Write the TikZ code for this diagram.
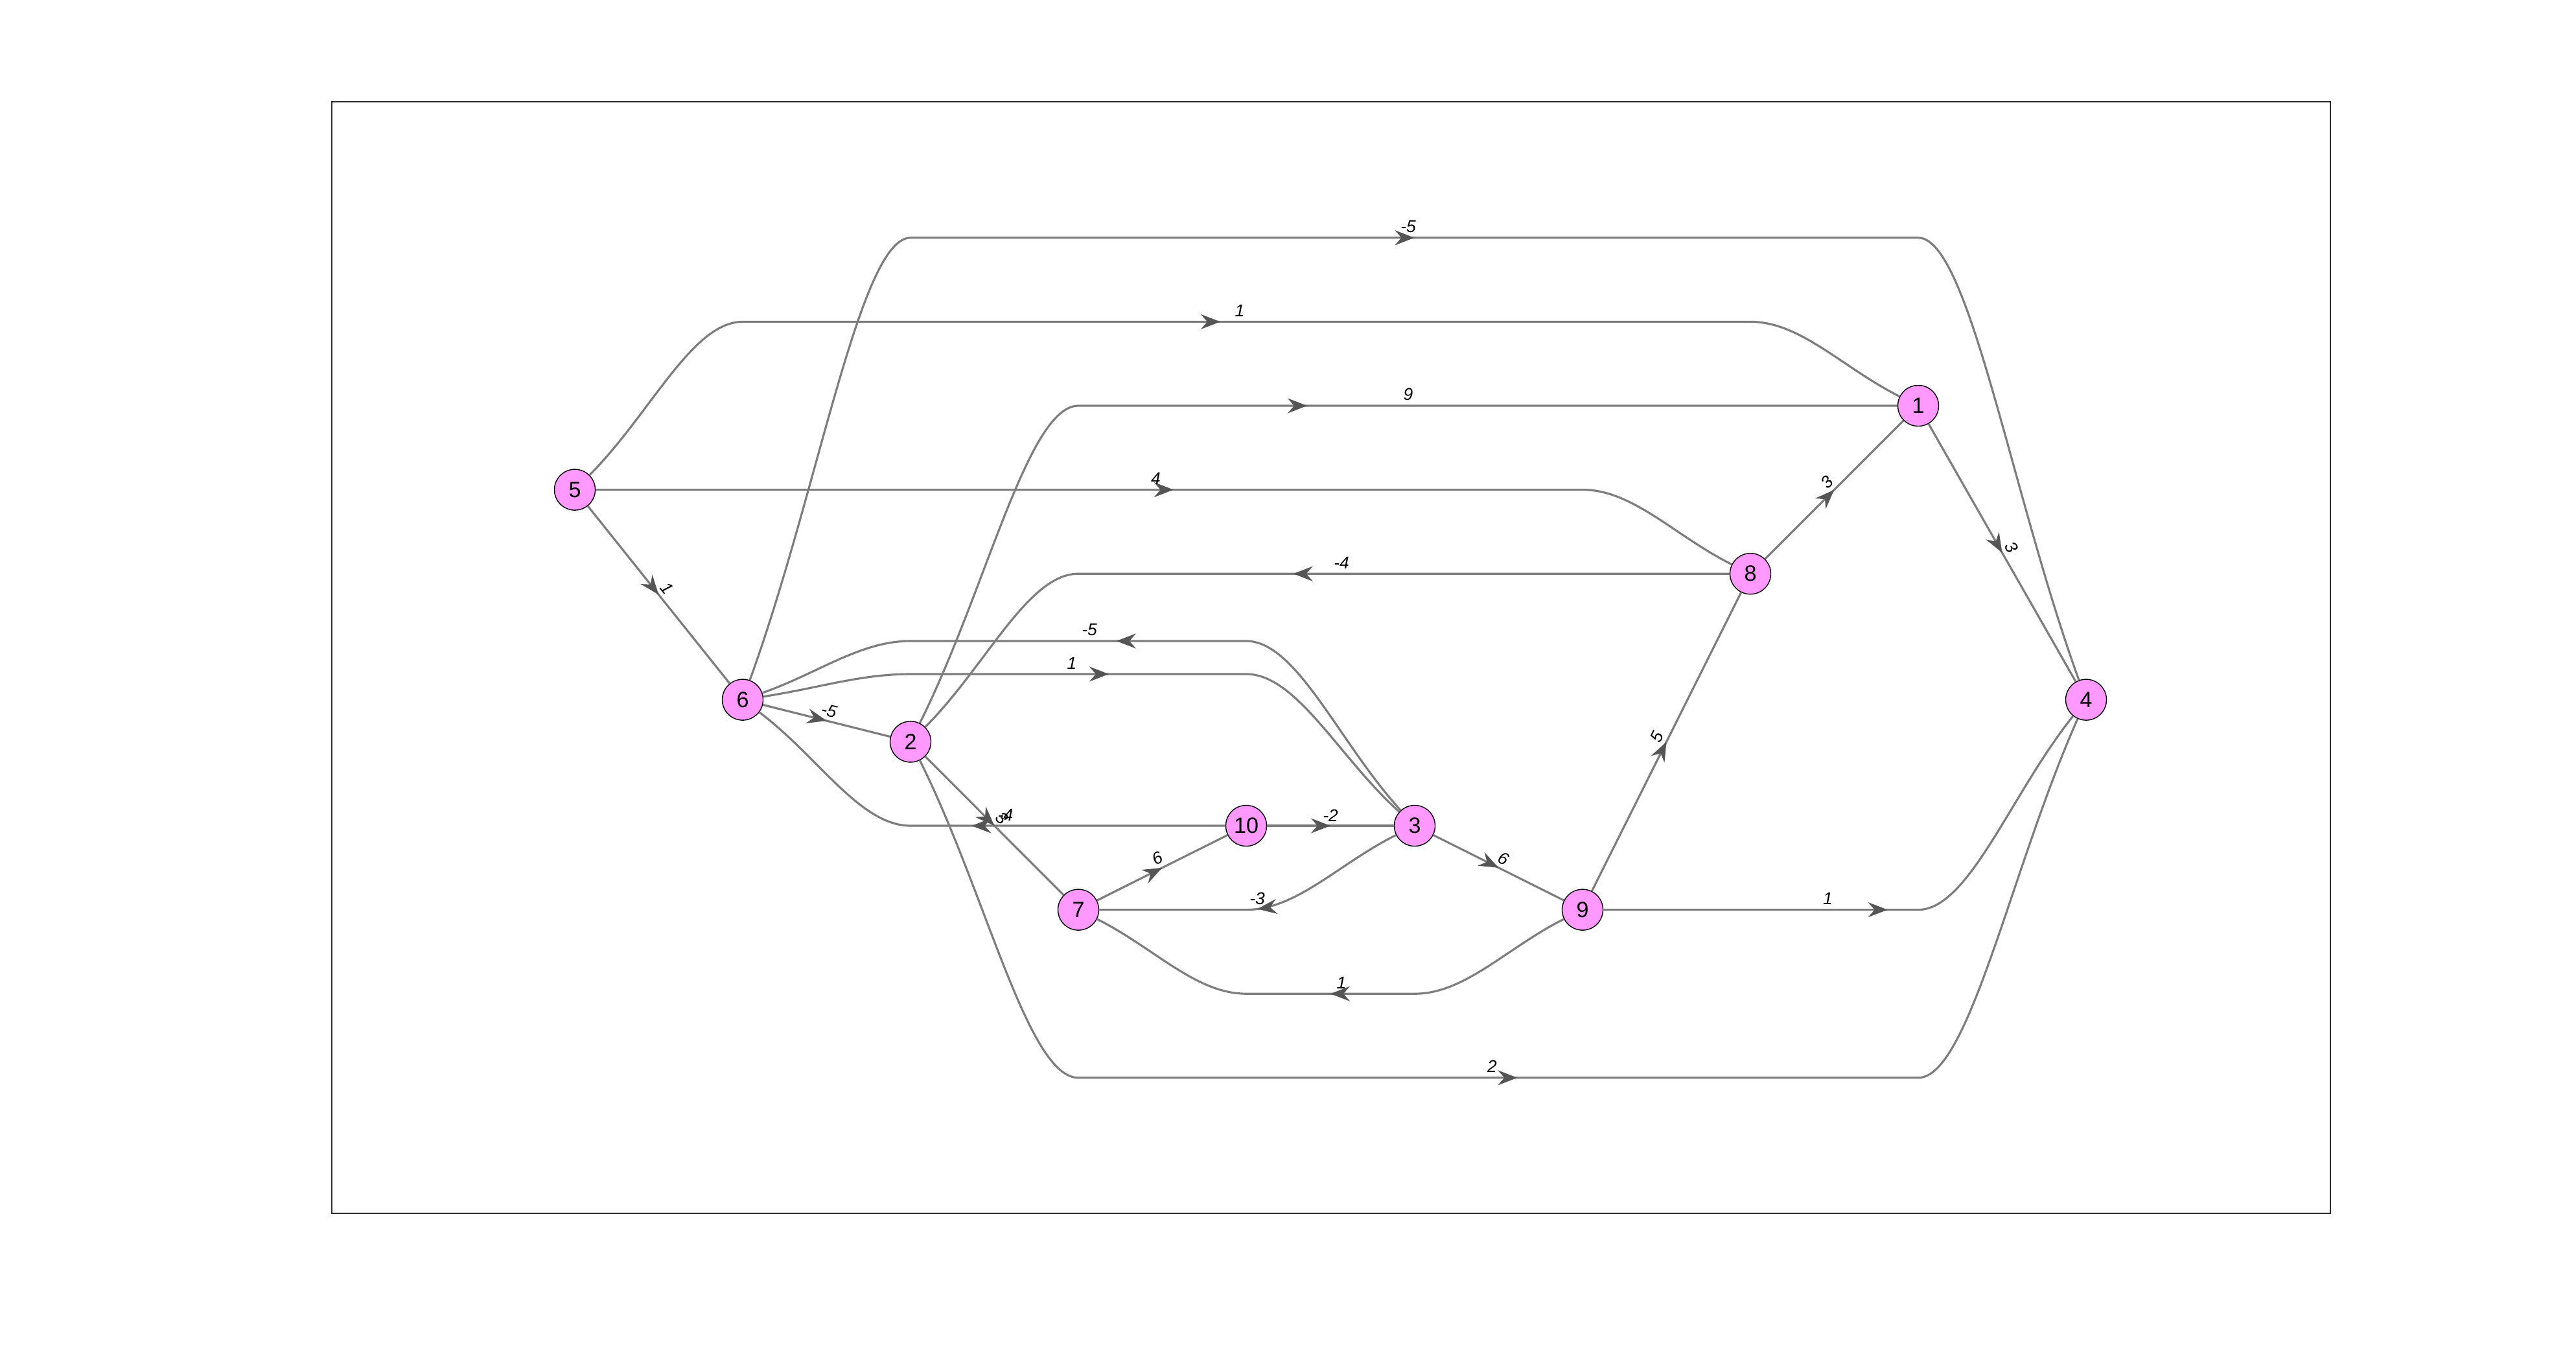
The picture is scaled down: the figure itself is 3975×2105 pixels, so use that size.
\documentclass[tikz,border=0pt]{standalone}
\usepackage{fontspec}
\setmainfont{Liberation Sans}
\usetikzlibrary{arrows.meta,decorations.markings,calc}
\definecolor{nodepink}{RGB}{255,153,255}
\definecolor{edgegray}{RGB}{125,125,125}
\definecolor{arrowgray}{RGB}{85,85,85}
\definecolor{framegray}{RGB}{45,45,45}
\tikzset{
  mytip/.tip={Stealth[length=0.3cm,width=0.23cm,inset=0.1cm]},
  vtx/.style={circle,draw=black,line width=0.4pt,fill=nodepink,minimum size=0.63cm,inner sep=0pt,font=\fontsize{9.7}{10}\selectfont},
  fedge/.style={draw=edgegray,line width=0.9pt,postaction={decorate},
    decoration={markings,mark=at position 0.5 with {\arrow[color=arrowgray]{mytip}}}},
  redge/.style={draw=edgegray,line width=0.9pt,postaction={decorate},
    decoration={markings,mark=at position 0.5 with {\arrowreversed[color=arrowgray]{mytip}}}},
  elbl/.style={font=\fontsize{7.5}{8}\selectfont\itshape,inner sep=1.5pt,text=black},
  blbl/.style={elbl,anchor=south},
  slbl/.style={elbl,midway,sloped,above},
}
\begin{document}
\begin{tikzpicture}[x=0.01cm,y=-0.01cm]
\useasboundingbox (0,0) rectangle (3975,2105);
\fill[white] (0,0) rectangle (3975,2105);
\draw[framegray,line width=0.45pt] (512,157) rectangle (3596,1872);

% nodes
\node[vtx] (n5) at (887,755.6) {5};
\node[vtx] (n6) at (1146,1079.6) {6};
\node[vtx] (n2) at (1405,1144.4) {2};
\node[vtx] (n7) at (1664,1403.6) {7};
\node[vtx] (n10) at (1923,1274) {10};
\node[vtx] (n3) at (2183,1274) {3};
\node[vtx] (n9) at (2442,1403.6) {9};
\node[vtx] (n8) at (2701,885.2) {8};
\node[vtx] (n1) at (2960,626) {1};
\node[vtx] (n4) at (3219,1079.6) {4};

% bend points
\coordinate (a51) at (1146,496.4); \coordinate (b51) at (2701,496.4);
\coordinate (a64) at (1405,366.8); \coordinate (b64) at (2960,366.8);
\coordinate (a21) at (1664,626);
\coordinate (b58) at (2442,755.6);
\coordinate (a82) at (1664,885.2);
\coordinate (a36) at (1405,989); \coordinate (b36) at (1923,989);
\coordinate (a63) at (1405,1040); \coordinate (b63) at (1923,1040);
\coordinate (a106) at (1405,1274);
\coordinate (b37) at (1923,1403.6);
\coordinate (a97) at (1923,1533.2); \coordinate (b97) at (2183,1533.2);
\coordinate (b94) at (2960,1403.6);
\coordinate (a24) at (1664,1662.8); \coordinate (b24) at (2960,1662.8);

% bent edges
\draw[fedge] (n5) .. controls ($(n5)!0.45!(a51)$) and ($(a51)+(-78,0)$) .. (a51) -- (b51)
  .. controls ($(b51)+(78,0)$) and ($(b51)!0.55!(n1)$) .. (n1);
\node[blbl] at (1913,494.4) {1};

\draw[fedge] (n6) .. controls ($(n6)!0.45!(a64)$) and ($(a64)+(-78,0)$) .. (a64) -- (b64)
  .. controls ($(b64)+(78,0)$) and ($(b64)!0.55!(n4)$) .. (n4);
\node[blbl] at (2173,364.8) {-5};

\draw[fedge] (n2) .. controls ($(n2)!0.45!(a21)$) and ($(a21)+(-78,0)$) .. (a21) -- (n1);
\node[blbl] at (2173,624) {9};

\draw[fedge] (n5) -- (b58)
  .. controls ($(b58)+(78,0)$) and ($(b58)!0.55!(n8)$) .. (n8);
\node[blbl] at (1783.5,753.6) {4};

\draw[redge] (n2) .. controls ($(n2)!0.45!(a82)$) and ($(a82)+(-78,0)$) .. (a82) -- (n8);
\node[blbl] at (2070,883.2) {-4};

\draw[redge] (n6) .. controls ($(n6)!0.45!(a36)$) and ($(a36)+(-78,0)$) .. (a36) -- (b36)
  .. controls ($(b36)+(78,0)$) and ($(b36)!0.55!(n3)$) .. (n3);
\node[blbl] at (1681,987) {-5};

\draw[fedge] (n6) .. controls ($(n6)!0.45!(a63)$) and ($(a63)+(-78,0)$) .. (a63) -- (b63)
  .. controls ($(b63)+(78,0)$) and ($(b63)!0.55!(n3)$) .. (n3);
\node[blbl] at (1654,1038) {1};

\draw[redge] (n6) .. controls ($(n6)!0.45!(a106)$) and ($(a106)+(-78,0)$) .. (a106) -- (n10);
\node[blbl] at (1551.5,1272) {-4};

\draw[redge] (n7) -- (b37)
  .. controls ($(b37)+(78,0)$) and ($(b37)!0.55!(n3)$) .. (n3);
\node[blbl] at (1940,1401.6) {-3};

\draw[redge] (n7) .. controls ($(n7)!0.45!(a97)$) and ($(a97)+(-78,0)$) .. (a97) -- (b97)
  .. controls ($(b97)+(78,0)$) and ($(b97)!0.55!(n9)$) .. (n9);
\node[blbl] at (2070,1531.2) {1};

\draw[fedge] (n9) -- (b94)
  .. controls ($(b94)+(78,0)$) and ($(b94)!0.55!(n4)$) .. (n4);
\node[blbl] at (2820.5,1401.6) {1};

\draw[fedge] (n2) .. controls ($(n2)!0.45!(a24)$) and ($(a24)+(-78,0)$) .. (a24) -- (b24)
  .. controls ($(b24)+(78,0)$) and ($(b24)!0.55!(n4)$) .. (n4);
\node[blbl] at (2302.5,1660.8) {2};

% straight edges
\draw[fedge] (n5) -- node[slbl] {1} (n6);
\draw[fedge] (n6) -- node[slbl] {-5} (n2);
\draw[fedge] (n2) -- node[slbl] {3} (n7);
\draw[fedge] (n7) -- node[slbl] {6} (n10);
\draw[fedge] (n10) -- node[slbl] {-2} (n3);
\draw[fedge] (n3) -- node[slbl] {6} (n9);
\draw[fedge] (n9) -- node[slbl] {5} (n8);
\draw[fedge] (n8) -- node[slbl] {3} (n1);
\draw[fedge] (n1) -- node[slbl] {3} (n4);
\end{tikzpicture}
\end{document}
